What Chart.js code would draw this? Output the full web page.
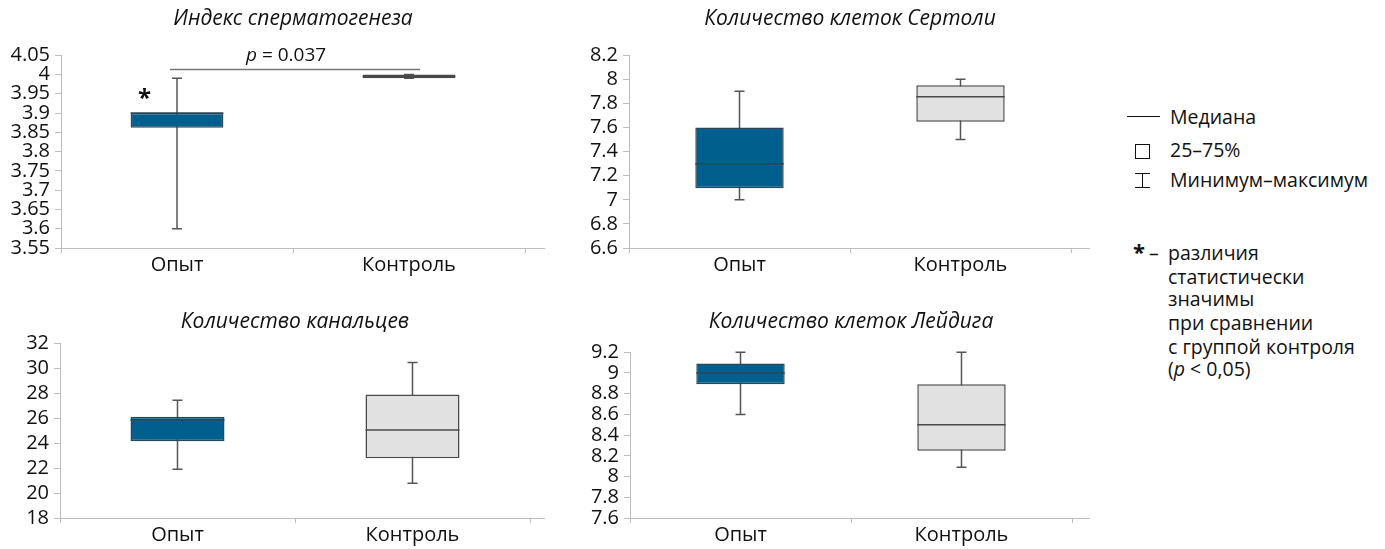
<!DOCTYPE html>
<html lang="ru">
<head>
<meta charset="utf-8">
<title>Морфометрия семенников</title>
<script src="https://cdn.jsdelivr.net/npm/chart.js@4.4.1/dist/chart.umd.min.js"></script>
<style>
  html, body { margin: 0; padding: 0; background: #fff; }
  body { width: 1385px; height: 549px; position: relative; overflow: hidden; font-family: 'Open Sans', sans-serif; color: #111; }
  .box { position: absolute; }
  .legend { position: absolute; font-size: 19.5px; line-height: 23px; }
  .lg-row { position: absolute; left: 0; white-space: nowrap; }
  .sym { position: absolute; }
</style>
</head>
<body>
<div class="box" style="left:0;top:0;width:545px;height:280px"><canvas id="c1"></canvas></div>
<div class="box" style="left:545px;top:0;width:545px;height:280px"><canvas id="c2"></canvas></div>
<div class="box" style="left:0;top:280px;width:545px;height:269px"><canvas id="c3"></canvas></div>
<div class="box" style="left:545px;top:280px;width:545px;height:269px"><canvas id="c4"></canvas></div>

<!-- легенда -->
<div class="legend" style="left:1120px;top:100px;width:265px;height:300px">
  <div class="sym" style="left:7px;top:16px;width:33px;height:0;border-top:1.5px solid #111"></div>
  <div class="lg-row" style="left:50px;top:5px">Медиана</div>
  <div class="sym" style="left:15px;top:44px;width:13px;height:13px;border:1.5px solid #111"></div>
  <div class="lg-row" style="left:50px;top:38px">25–75%</div>
  <div class="sym" style="left:15px;top:73px;width:15px;height:13px;border-top:1.5px solid #111;border-bottom:1.5px solid #111"></div>
  <div class="sym" style="left:22px;top:73px;width:0;height:14px;border-left:1.5px solid #111"></div>
  <div class="lg-row" style="left:50px;top:68px">Минимум–максимум</div>
  <div class="lg-row" style="left:13px;top:140px"><b style="font-size:22px">*</b></div>
  <div class="lg-row" style="left:29px;top:141px">–</div>
  <div class="lg-row" style="left:48px;top:141px">различия</div>
  <div class="lg-row" style="left:48px;top:165px">статистически</div>
  <div class="lg-row" style="left:48px;top:187px">значимы</div>
  <div class="lg-row" style="left:48px;top:211px">при сравнении</div>
  <div class="lg-row" style="left:48px;top:235px">с группой контроля</div>
  <div class="lg-row" style="left:48px;top:257px">(<i>p</i> &lt; 0,05)</div>
</div>

<script>
// категории (группы)
const categories = ['Опыт', 'Контроль'];

// Индекс сперматогенеза
const spermMin = [3.60, 3.99];
const spermQ1 = [3.862, 3.99];
const spermMedian = [3.90, 3.995];
const spermQ3 = [3.90, 4.00];
const spermMax = [3.99, 4.00];
const spermTicks = [3.55, 3.6, 3.65, 3.7, 3.75, 3.8, 3.85, 3.9, 3.95, 4, 4.05];
const pValueText = '0.037';

// Количество клеток Сертоли
const sertoliMin = [7.0, 7.5];
const sertoliQ1 = [7.095, 7.647];
const sertoliMedian = [7.30, 7.855];
const sertoliQ3 = [7.60, 7.95];
const sertoliMax = [7.90, 8.0];
const sertoliTicks = [6.6, 6.8, 7, 7.2, 7.4, 7.6, 7.8, 8, 8.2];

// Количество канальцев
const tubuleMin = [21.9, 20.78];
const tubuleQ1 = [24.15, 22.78];
const tubuleMedian = [25.84, 25.05];
const tubuleQ3 = [26.1, 27.9];
const tubuleMax = [27.44, 30.45];
const tubuleTicks = [18, 20, 22, 24, 26, 28, 30, 32];

// Количество клеток Лейдига
const leydigMin = [8.6, 8.09];
const leydigQ1 = [8.89, 8.25];
const leydigMedian = [9.0, 8.5];
const leydigQ3 = [9.09, 8.89];
const leydigMax = [9.2, 9.2];
const leydigTicks = [7.6, 7.8, 8, 8.2, 8.4, 8.6, 8.8, 9, 9.2];

const FONT = "'Open Sans', sans-serif";
const AXIS = '#bdbdbd';
const WHISKER = '#555';
const boxFill = ['#005f8c', '#e1e1e1'];
const boxLine = ['#2b4658', '#4a4a4a'];

// усы, медианы и подписи рисуются поверх через шкалы Chart.js
function boxExtras(stats, extra) {
    return {
        id: 'boxExtras',
        beforeDatasetsDraw(chart) {
            const ctx = chart.ctx, y = chart.scales.y;
            const meta = chart.getDatasetMeta(0);
            ctx.save();
            ctx.strokeStyle = WHISKER;
            ctx.lineWidth = 1.5;
            meta.data.forEach((bar, i) => {
                const yMin = y.getPixelForValue(stats.min[i]);
                const yMax = y.getPixelForValue(stats.max[i]);
                ctx.beginPath();
                ctx.moveTo(bar.x, yMin); ctx.lineTo(bar.x, yMax);
                ctx.moveTo(bar.x - 5, yMin); ctx.lineTo(bar.x + 5, yMin);
                ctx.moveTo(bar.x - 5, yMax); ctx.lineTo(bar.x + 5, yMax);
                ctx.stroke();
            });
            // продолжение оси X
            const a = chart.chartArea;
            ctx.strokeStyle = AXIS;
            ctx.lineWidth = 1;
            ctx.beginPath();
            ctx.moveTo(a.right, a.bottom + 0.5); ctx.lineTo(a.right + 34, a.bottom + 0.5);
            ctx.stroke();
            ctx.restore();
        },
        afterDatasetsDraw(chart) {
            const ctx = chart.ctx, y = chart.scales.y;
            const meta = chart.getDatasetMeta(0);
            ctx.save();
            ctx.lineWidth = 1.5;
            meta.data.forEach((bar, i) => {
                const ym = y.getPixelForValue(stats.median[i]);
                ctx.strokeStyle = boxLine[i];
                ctx.beginPath();
                ctx.moveTo(bar.x - bar.width / 2, ym); ctx.lineTo(bar.x + bar.width / 2, ym);
                ctx.stroke();
            });
            if (extra) extra(chart, meta);
            ctx.restore();
        }
    };
}

function makeBoxChart(id, title, stats, ticks, dims, extra) {
    const ctx = document.getElementById(id).getContext('2d');
    return new Chart(ctx, {
        type: 'bar',
        data: {
            labels: categories,
            datasets: [{
                data: stats.q1.map((v, i) => [v, stats.q3[i]]),
                backgroundColor: boxFill,
                borderColor: boxLine,
                borderWidth: 1.5,
                borderSkipped: false,
                barPercentage: 0.4,
                categoryPercentage: 1
            }]
        },
        options: {
            responsive: true,
            maintainAspectRatio: false,
            animation: false,
            layout: { padding: { left: 0, right: dims.right, top: 0, bottom: 0 } },
            plugins: {
                legend: { display: false },
                tooltip: { enabled: false },
                title: {
                    display: true,
                    fullSize: false,
                    text: title,
                    color: '#111',
                    font: { family: FONT, size: 21, style: 'italic', weight: 'normal' },
                    padding: { top: dims.titleTop, bottom: dims.titleBottom }
                }
            },
            scales: {
                x: {
                    grid: { offset: true, drawOnChartArea: false, color: AXIS, tickLength: 5 },
                    border: { color: AXIS },
                    ticks: { color: '#111', font: { family: FONT, size: 20 }, padding: 0 },
                    afterFit: s => { s.height = dims.xHeight; }
                },
                y: {
                    min: ticks[0],
                    max: ticks[ticks.length - 1],
                    grid: { drawOnChartArea: false, color: AXIS, tickLength: 6 },
                    border: { color: AXIS },
                    ticks: {
                        color: '#111',
                        font: { family: FONT, size: 20 },
                        padding: 5,
                        autoSkip: false,
                        callback: v => String(parseFloat(Number(v).toFixed(2)))
                    },
                    afterBuildTicks: s => { s.ticks = ticks.map(v => ({ value: v })); },
                    afterFit: s => { s.width = dims.left; }
                }
            }
        },
        plugins: [boxExtras(stats, extra)]
    });
}

document.addEventListener('DOMContentLoaded', () => {
    // Индекс сперматогенеза + звёздочка и p-значение
    makeBoxChart('c1', 'Индекс сперматогенеза',
        { min: spermMin, q1: spermQ1, median: spermMedian, q3: spermQ3, max: spermMax },
        spermTicks,
        { left: 61, right: 20, titleTop: 6, titleBottom: 24, xHeight: 32 },
        (chart, meta) => {
            const ctx = chart.ctx, y = chart.scales.y;
            const b0 = meta.data[0], b1 = meta.data[1];
            // звёздочка над боксом опытной группы
            ctx.fillStyle = '#111';
            ctx.font = `bold 24px ${FONT}`;
            ctx.textAlign = 'center';
            ctx.textBaseline = 'middle';
            ctx.fillText('*', b0.x - b0.width * 0.35, y.getPixelForValue(spermQ3[0]) - 14);
            // линия сравнения
            const ly = y.getPixelForValue(spermMax[1]) - 5;
            ctx.strokeStyle = '#777';
            ctx.lineWidth = 1.5;
            ctx.beginPath();
            ctx.moveTo(b0.x - 7, ly); ctx.lineTo(b1.x + 11, ly);
            ctx.stroke();
            const cx = (b0.x + b1.x) / 2;
            ctx.font = `italic 19px ${FONT}`;
            ctx.textAlign = 'right';
            ctx.fillText('p', cx - 36, ly - 14);
            ctx.font = `19px ${FONT}`;
            ctx.textAlign = 'left';
            ctx.fillText(' = ' + pValueText, cx - 36, ly - 14);
        });

    makeBoxChart('c2', 'Количество клеток Сертоли',
        { min: sertoliMin, q1: sertoliQ1, median: sertoliMedian, q3: sertoliQ3, max: sertoliMax },
        sertoliTicks,
        { left: 84, right: 19, titleTop: 6, titleBottom: 24, xHeight: 32 });

    makeBoxChart('c3', 'Количество канальцев',
        { min: tubuleMin, q1: tubuleQ1, median: tubuleMedian, q3: tubuleQ3, max: tubuleMax },
        tubuleTicks,
        { left: 60, right: 15, titleTop: 29, titleBottom: 9, xHeight: 31 });

    makeBoxChart('c4', 'Количество клеток Лейдига',
        { min: leydigMin, q1: leydigQ1, median: leydigMedian, q3: leydigQ3, max: leydigMax },
        leydigTicks,
        { left: 85, right: 18, titleTop: 29, titleBottom: 18, xHeight: 31 });
});
</script>
</body>
</html>
